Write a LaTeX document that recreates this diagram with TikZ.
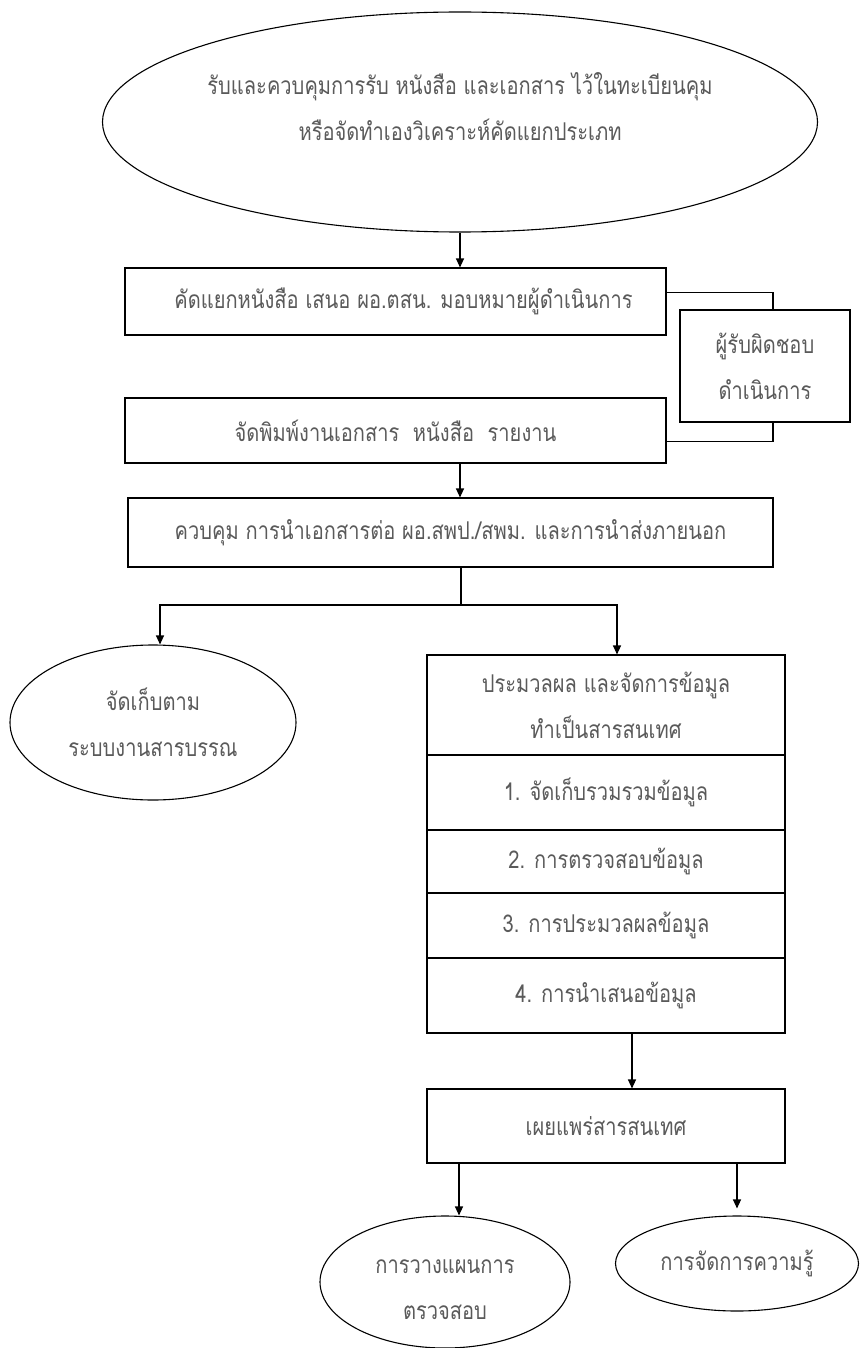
\documentclass[tikz,border=0pt]{standalone}
\usepackage{fontspec}
\usetikzlibrary{shapes.geometric,arrows.meta,calc}
\newfontfamily\thai[Script=Thai,FakeStretch=0.82]{Loma}
\definecolor{txt}{RGB}{90,90,90}
\begin{document}
\begin{tikzpicture}[x=1pt,y=-1pt,
  every node/.style={font=\thai\fontsize{24.5}{46}\selectfont, text=txt, align=center},
  box/.style={draw, line width=1.1pt, rectangle, inner sep=0pt},
  ell/.style={draw, line width=1.1pt, ellipse, inner sep=0pt},
  ln/.style={line width=1.1pt},
  arr/.style={line width=1.1pt, -{Triangle[length=9pt,width=8pt]}}]
\useasboundingbox (0,0) rectangle (859,1348);
\fill[white] (0,0) rectangle (859,1348);

\node[ell, minimum width=715pt, minimum height=220pt, text depth=30pt] (top) at (460,122)
  {รับและควบคุมการรับ หนังสือ และเอกสาร ไว้ในทะเบียนคุม\\หรือจัดทำเองวิเคราะห์คัดแยกประเภท};
\node[box, minimum width=541pt, minimum height=67pt] (b1) at (395.5,301.5)
  {\hspace*{16pt}คัดแยกหนังสือ เสนอ ผอ.ตสน. มอบหมายผู้ดำเนินการ};
\node[box, minimum width=170pt, minimum height=112pt] (side) at (765,366)
  {ผู้รับผิดชอบ\\ดำเนินการ};
\node[box, minimum width=541pt, minimum height=65pt] (b2) at (395.5,430.5)
  {จัดพิมพ์งานเอกสาร\ \ หนังสือ\ \ รายงาน};
\node[box, minimum width=645pt, minimum height=69pt] (b3) at (450.5,532.5)
  {ควบคุม การนำเอกสารต่อ ผอ.สพป./สพม. และการนำส่งภายนอก};
\node[ell, minimum width=286pt, minimum height=155pt] (le) at (153,722.5)
  {จัดเก็บตาม\\ระบบงานสารบรรณ};
\node[box, minimum width=358pt, minimum height=100pt] (p0) at (606,705)
  {ประมวลผล และจัดการข้อมูล\\ทำเป็นสารสนเทศ};
\node[box, minimum width=358pt, minimum height=75pt] (p1) at (606,792.5)
  {1. จัดเก็บรวมรวมข้อมูล};
\node[box, minimum width=358pt, minimum height=63pt] (p2) at (606,861.5)
  {2. การตรวจสอบข้อมูล};
\node[box, minimum width=358pt, minimum height=65pt] (p3) at (606,925.5)
  {3. การประมวลผลข้อมูล};
\node[box, minimum width=358pt, minimum height=75pt] (p4) at (606,995.5)
  {4. การนำเสนอข้อมูล};
\node[box, minimum width=358pt, minimum height=74pt] (b5) at (606,1126)
  {เผยแพร่สารสนเทศ};
\node[ell, minimum width=250pt, minimum height=132pt] (bl) at (445,1282) {};
\node (blt) at (445,1290) {การวางแผนการ\\ตรวจสอบ};
\node[ell, minimum width=243pt, minimum height=95pt] (brr) at (737,1263.5)
  {การจัดการความรู้};

\coordinate (split) at (461,605);

\draw[arr] (top.south) -- (top.south |- b1.north);
\draw[ln] ([yshift=9pt]b1.east) -| ([xshift=8pt]side.north);
\draw[ln] ([yshift=-11pt]b2.east) -| ([xshift=8pt]side.south);
\draw[arr] (b2.south -| top.south) -- (b3.north -| top.south);
\draw[ln] (b3.south -| split) -- (split);
\draw[arr] (split) -| ([xshift=7pt]le.north);
\draw[arr] (split) -| ([xshift=11pt]p0.north);
\draw[arr] ([xshift=26pt]p4.south) -- ([xshift=26pt]b5.north);
\draw[arr] ([xshift=14pt]bl.north |- b5.south) -- ([xshift=14pt]bl.north);
\draw[arr] (b5.south -| brr.north) -- ([yshift=7pt]brr.north);
\end{tikzpicture}
\end{document}
